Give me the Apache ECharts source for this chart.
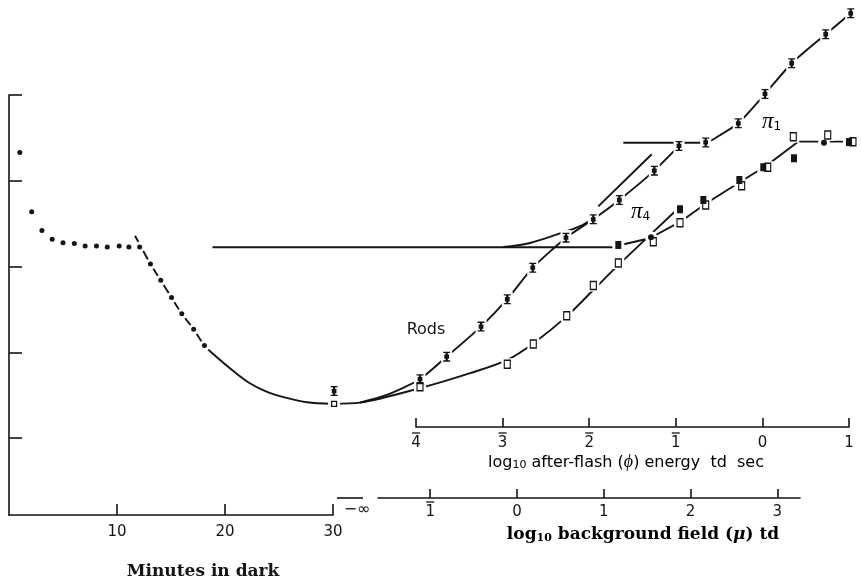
<!DOCTYPE html>
<html><head><meta charset="utf-8">
<script src="https://cdn.jsdelivr.net/npm/echarts@6/dist/echarts.min.js"></script>
<style>html,body{margin:0;padding:0;background:#fff}#c{width:861px;height:582px}</style>
</head><body><div id="c"></div>
<script>
// y : log10 threshold (1 unit per tick); x : minutes in dark / log10 background mu / log10 after-flash phi
const yTicks = [0, 1, 2, 3, 4];
const minuteTicks = [10, 20, 30];
const muTicks = [-1, 0, 1, 2, 3];
const phiTicks = [-4, -3, -2, -1, 0, 1];

// dark adaptation (minutes axis)
const darkDots = [[1.0,3.33],[2.1,2.64],[3.05,2.42],[4.0,2.32],[5.0,2.28],[6.05,2.27],[7.05,2.24],[8.1,2.24],[9.1,2.23],[10.2,2.24],[11.1,2.23],[12.1,2.23],[13.1,2.03],[14.05,1.84],[15.05,1.64],[16.0,1.45],[17.1,1.27],[18.1,1.08]];
const darkCurve = [[11.67,2.36],[13.1,2.03],[14.05,1.84],[15.05,1.64],[16.0,1.45],[17.1,1.27],[18.1,1.08],[19.2,0.95],[20.8,0.78],[22.3,0.64],[23.9,0.54],[25.7,0.47],[27.6,0.42],[30.0,0.40]];
const darkRodBar = [[30.1,0.55]];
const darkRodSquare = [[30.1,0.40]];

// background field (mu axis)
const conePlateauMu = [[-3.51,2.226],[1.13,2.226],[1.17,2.247],[1.53,2.331],[1.88,2.521],[2.17,2.731],[2.57,2.987],[2.87,3.173],[3.24,3.457],[3.85,3.457]];
const rodCurveMu = [[-2.12,0.402],[-1.81,0.415],[-1.12,0.583],[-0.54,0.758],[-0.11,0.913],[0.19,1.107],[0.57,1.417],[0.88,1.728],[1.17,2.02],[1.86,2.681]];
const openSquaresMu = [[-1.118,0.601],[-0.112,0.862],[0.188,1.099],[0.573,1.429],[0.880,1.779],[1.168,2.043],[1.571,2.291],[1.879,2.513],[2.175,2.719],[2.590,2.944],[2.890,3.159],[3.185,3.515],[3.582,3.535],[3.873,3.457]];
const filledSquaresMu = [[1.168,2.253],[1.879,2.669],[2.148,2.777],[2.563,3.010],[2.839,3.159],[3.193,3.263],[3.827,3.452]];
const filledCirclesMu = [[1.545,2.343],[3.539,3.445]];

// after-flash (phi axis)
const rodCurvePhi = [[-4.647,0.415],[-4.338,0.505],[-3.954,0.688],[-3.646,0.951],[-3.249,1.301],[-2.946,1.62],[-2.652,1.988],[-2.268,2.338],[-1.953,2.552],[-1.652,2.777],[-1.248,3.119],[-0.963,3.407]];
const pi4CurvePhi = [[-2.992,2.23],[-2.684,2.276],[-2.337,2.387],[-2.106,2.472],[-1.953,2.568]];
const pi4LinePhi = [[-1.895,2.702],[-1.278,3.31]];
const pi1CurvePhi = [[-1.606,3.445],[-0.655,3.445],[-0.467,3.547],[-0.278,3.671],[0.03,4.013],[0.338,4.371],[0.731,4.709],[1.02,4.953]];
const errorBarsPhi = [[-3.954,0.688],[-3.646,0.951],[-3.249,1.301],[-2.946,1.62],[-2.652,1.988],[-2.268,2.338],[-1.953,2.552],[-1.652,2.777],[-1.248,3.119],[-0.963,3.407],[-0.655,3.448],[-0.278,3.671],[0.03,4.013],[0.338,4.371],[0.731,4.709],[1.02,4.953]];

const INK = '#141414';
const SANS = 'DejaVu Sans';
const SERIF = 'DejaVu Serif';
const BAR_PATH = 'path://M0,0H10V1.8H6.6V4H8.4V10H6.6V12.2H10V14H0V12.2H3.4V10H1.6V4H3.4V1.8H0Z';

function barLabel(v) {
  return v < 0 ? '{o| }\n{d|' + (-v) + '}' : '{n| }\n{d|' + v + '}';
}
const tickRich = {
  o: { width: 8, height: 1.3, lineHeight: 4, backgroundColor: INK, fontSize: 2 },
  n: { width: 8, height: 1.3, lineHeight: 4, fontSize: 2 },
  d: { fontFamily: SANS, fontSize: 15, lineHeight: 17, color: INK }
};

function xAx(grid, min, max, ticks, tickLen, margin, rich) {
  return {
    type: 'value', gridIndex: grid, min: min, max: max,
    axisLine: { show: true, onZero: false, lineStyle: { color: INK, width: 1.6 } },
    axisTick: { show: true, inside: true, length: tickLen, customValues: ticks, lineStyle: { color: INK, width: 1.6 } },
    axisLabel: rich
      ? { show: true, customValues: ticks, margin: margin, formatter: barLabel, rich: tickRich }
      : { show: true, customValues: ticks, margin: margin, fontFamily: SANS, fontSize: 15, color: INK },
    splitLine: { show: false }
  };
}
// hidden full-width plotting axes, aligned with the visible axes above
function hidX(grid, min, max) {
  return { type: 'value', gridIndex: grid, min: min, max: max, show: false, splitLine: { show: false } };
}
function hidY(grid) {
  return { type: 'value', gridIndex: grid, min: -0.8951, max: 4.9918, show: false, splitLine: { show: false } };
}
function lineS(data, axis, smooth) {
  return { type: 'line', xAxisIndex: axis, yAxisIndex: axis, data: data, smooth: smooth || false,
    symbol: 'none', showSymbol: false, clip: false, silent: true, z: 2,
    lineStyle: { color: INK, width: 1.9 } };
}
function eraser(data, axis, symbol, size) {
  return { type: 'scatter', xAxisIndex: axis, yAxisIndex: axis, data: data, symbol: symbol, symbolSize: size,
    clip: false, silent: true, z: 3, itemStyle: { color: '#ffffff', opacity: 1 } };
}
function marks(data, axis, symbol, size, filled) {
  return { type: 'scatter', xAxisIndex: axis, yAxisIndex: axis, data: data, symbol: symbol, symbolSize: size,
    clip: false, silent: true, z: 4,
    itemStyle: filled ? { color: INK, opacity: 1 } : { color: '#ffffff', borderColor: INK, borderWidth: 1.3, opacity: 1 } };
}

const piRich = {
  p: { fontFamily: 'Liberation Serif', fontStyle: 'italic', fontSize: 23, lineHeight: 24, verticalAlign: 'bottom', color: INK },
  s: { fontFamily: SANS, fontSize: 12, lineHeight: 12, verticalAlign: 'bottom', color: INK }
};

const MIN = 3, MU = 4, PHI = 5; // plotting grids

const option = {
  animation: false,
  backgroundColor: '#ffffff',
  grid: [
    { left: 9, top: 95, width: 324, height: 420 },
    { left: 378, top: 95, width: 422, height: 403 },
    { left: 416, top: 95, width: 433, height: 332 },
    { left: 9, top: 10, width: 847, height: 505 },
    { left: 9, top: 10, width: 847, height: 505 },
    { left: 9, top: 10, width: 847, height: 505 }
  ],
  xAxis: [
    xAx(0, 0, 30, minuteTicks, 11, 10, false),
    xAx(1, -1.602, 3.262, muTicks, 9, 2, true),
    xAx(2, -4, 1, phiTicks, 9, 4, true),
    hidX(3, 0, 847 / 10.8),
    hidX(4, (9 - 517) / 86.75, (856 - 517) / 86.75),
    hidX(5, (9 - 762.4) / 86.6, (856 - 762.4) / 86.6)
  ],
  yAxis: [
    { type: 'value', gridIndex: 0, min: -0.895, max: 4,
      axisLine: { show: true, onZero: false, lineStyle: { color: INK, width: 1.6 } },
      axisTick: { show: true, inside: true, length: 13, customValues: yTicks, lineStyle: { color: INK, width: 1.6 } },
      axisLabel: { show: false }, splitLine: { show: false } },
    { type: 'value', gridIndex: 1, min: -0.696, max: 4, show: false, splitLine: { show: false } },
    { type: 'value', gridIndex: 2, min: 0.1317, max: 4, show: false, splitLine: { show: false } },
    hidY(3), hidY(4), hidY(5)
  ],
  series: [
    lineS(darkCurve, MIN, 0.3),
    lineS(conePlateauMu, MU, false),
    lineS(rodCurveMu, MU, 0.3),
    lineS(rodCurvePhi, PHI, 0.2),
    lineS(pi4CurvePhi, PHI, 0.4),
    lineS(pi4LinePhi, PHI, false),
    lineS(pi1CurvePhi, PHI, 0.2),
    eraser(darkDots, MIN, 'circle', 11),
    eraser(darkRodBar, MIN, 'rect', [10, 15]),
    eraser(darkRodSquare, MIN, 'rect', [12, 10]),
    eraser(openSquaresMu, MU, 'rect', [12, 12]),
    eraser(filledSquaresMu, MU, 'rect', [12, 12]),
    eraser(filledCirclesMu, MU, 'circle', 12),
    eraser(errorBarsPhi, PHI, 'rect', [11, 15]),
    marks(darkDots, MIN, 'circle', 5, true),
    marks(darkRodBar, MIN, BAR_PATH, [7, 10], true),
    marks(darkRodSquare, MIN, 'rect', [5, 5], false),
    marks(openSquaresMu, MU, 'rect', [6, 8], false),
    marks(filledSquaresMu, MU, 'rect', [6, 8], true),
    marks(filledCirclesMu, MU, 'circle', 6, true),
    marks(errorBarsPhi, PHI, BAR_PATH, [7, 10], true)
  ],
  graphic: [
    { type: 'line', shape: { x1: 337, y1: 498, x2: 363, y2: 498 }, style: { stroke: INK, lineWidth: 1.6 }, silent: true },
    { type: 'text', x: 357, y: 510, silent: true,
      style: { text: '\u2212\u221E', fontFamily: SANS, fontSize: 16, fill: INK, align: 'center', verticalAlign: 'middle' } },
    { type: 'text', x: 426, y: 330, silent: true,
      style: { text: 'Rods', fontFamily: SANS, fontSize: 16, fill: INK, align: 'center', verticalAlign: 'middle' } },
    { type: 'text', x: 631, y: 211, silent: true,
      style: { text: '{p|\u03C0}{s|4}', rich: piRich, align: 'left', verticalAlign: 'middle' } },
    { type: 'text', x: 762, y: 121, silent: true,
      style: { text: '{p|\u03C0}{s|1}', rich: piRich, align: 'left', verticalAlign: 'middle' } },
    { type: 'text', x: 626, y: 461, silent: true,
      style: {
        text: '{a|log}{s|10}{a| after-flash (}{i|\u03D5}{a|) energy  td  sec}',
        align: 'center', verticalAlign: 'middle',
        rich: {
          a: { fontFamily: SANS, fontSize: 16, lineHeight: 20, verticalAlign: 'bottom', color: INK },
          i: { fontFamily: 'Liberation Serif', fontStyle: 'italic', fontSize: 18, lineHeight: 20, verticalAlign: 'bottom', color: INK },
          s: { fontFamily: SANS, fontSize: 11, lineHeight: 12, verticalAlign: 'bottom', color: INK }
        }
      } },
    { type: 'text', x: 643, y: 533, silent: true,
      style: {
        text: '{a|log}{s|10}{a| background field (}{i|\u03BC}{a|) td}',
        align: 'center', verticalAlign: 'middle',
        rich: {
          a: { fontFamily: SERIF, fontWeight: 'bold', fontSize: 17, lineHeight: 21, verticalAlign: 'bottom', color: INK },
          i: { fontFamily: SERIF, fontWeight: 'bold', fontStyle: 'italic', fontSize: 17, lineHeight: 21, verticalAlign: 'bottom', color: INK },
          s: { fontFamily: SERIF, fontWeight: 'bold', fontSize: 11, lineHeight: 12, verticalAlign: 'bottom', color: INK }
        }
      } },
    { type: 'text', x: 203, y: 572, silent: true,
      style: { text: 'Minutes in dark', fontFamily: SERIF, fontWeight: 'bold', fontSize: 17, fill: INK, align: 'center', verticalAlign: 'middle' } }
  ]
};

const chart = echarts.init(document.getElementById('c'), null, { renderer: 'canvas' });
chart.setOption(option);
</script>
</body></html>
